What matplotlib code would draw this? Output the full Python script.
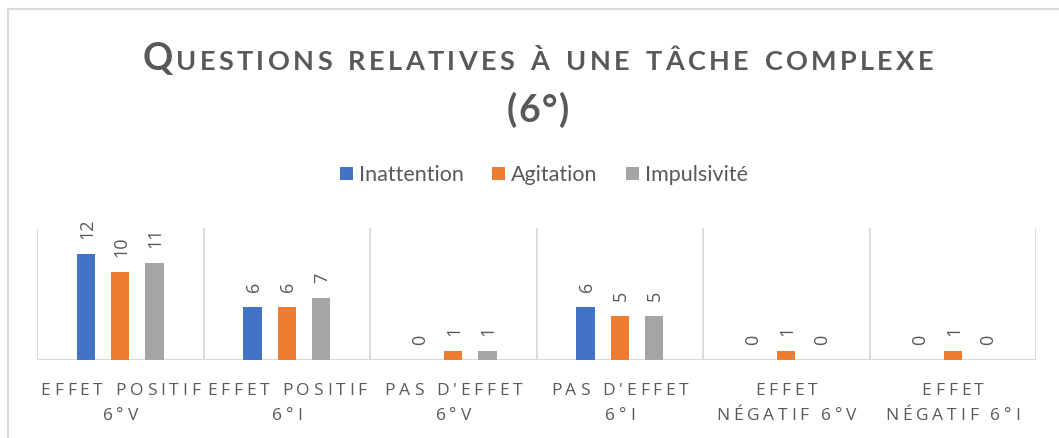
import matplotlib
matplotlib.use("Agg")
import numpy as np
import matplotlib.pyplot as plt
import matplotlib.patches as mpatches

# ---------------------------------------------------------------------------
# Data
# ---------------------------------------------------------------------------
categories = [
    ("EFFET POSITIF", "6°V"),
    ("EFFET POSITIF", "6°I"),
    ("PAS D'EFFET", "6°V"),
    ("PAS D'EFFET", "6°I"),
    ("EFFET", "NÉGATIF 6°V"),
    ("EFFET", "NÉGATIF 6°I"),
]
series_names = ["Inattention", "Agitation", "Impulsivité"]
inattention = [12, 6, 0, 6, 0, 0]
agitation = [10, 6, 1, 5, 1, 1]
impulsivite = [11, 7, 1, 5, 0, 0]
title_first = "Q"
title_rest = "UESTIONS RELATIVES À UNE TÂCHE COMPLEXE"
title_line2 = "(6°)"

colors = ["#4472C4", "#ED7D31", "#A5A5A5"]
TXT = "#595959"
GRID = "#D9D9D9"

W, H = 1059, 438
fig = plt.figure(figsize=(W / 100, H / 100), dpi=100)
fig.patch.set_facecolor("white")

# chart-area frame (runs off the right and bottom edges)
fig.add_artist(mpatches.Rectangle((8 / W, -0.1), 1.2, 429 / H + 0.1,
                                  transform=fig.transFigure, fill=False,
                                  ec=GRID, lw=1.5))

ax = fig.add_axes([37 / W, 78 / H, 999 / W, 132 / H])
x = np.arange(len(categories))
bw = 0.11
off = 0.205
for i, (vals, c, name) in enumerate(zip([inattention, agitation, impulsivite],
                                        colors, series_names)):
    bars = ax.bar(x + (i - 1) * off, vals, bw, color=c, label=name, zorder=3)
    for b, v in zip(bars, vals):
        ax.annotate(str(v), (b.get_x() + b.get_width() / 2, v),
                    xytext=(1, 11), textcoords="offset points",
                    rotation=90, ha="center", va="bottom",
                    fontsize=13, color=TXT, family="Open Sans")

ax.set_xlim(-0.5, len(categories) - 0.5)
ax.set_ylim(0, 15)
for xv in np.arange(-0.5, len(categories), 1.0):
    ax.axvline(xv, color=GRID, lw=1.3, zorder=1)
ax.axhline(0, color=GRID, lw=1.5, zorder=2)
for s in ax.spines.values():
    s.set_visible(False)
ax.set_xticks([])
ax.set_yticks([])

renderer = fig.canvas.get_renderer()


def tracked(xc, y, parts, tracking, word_gap, **kw):
    """Draw text centred at pixel xc, baseline pixel y, with letter spacing."""
    items = []
    for s, size in parts:
        for ch in s:
            if ch == " ":
                items.append((None, word_gap))
                continue
            t = fig.text(0, 1 - y / H, ch, fontsize=size, ha="left",
                         va="baseline", **kw)
            items.append((t, t.get_window_extent(renderer).width))
    total = sum(w for _, w in items) + tracking * (len(items) - 1)
    px = xc - total / 2
    for t, w in items:
        if t is not None:
            t.set_x(px / W)
        px += w + tracking


# title (small caps look)
tkw = dict(color=TXT, family="Lato", weight="bold")
tracked(538, 70, [(title_first, 27), (title_rest, 19.5)], 3.3, 10, **tkw)
tracked(538, 122, [(title_line2, 27)], 1.5, 8, **tkw)

# category labels
for i, (l1, l2) in enumerate(categories):
    xc = ax.transData.transform((x[i], 0))[0]
    lkw = dict(color=TXT, family="Open Sans")
    tracked(xc, 395, [(l1, 12.5)], 3.8, 5, **lkw)
    tracked(xc, 420, [(l2, 12.5)], 3.8, 5, **lkw)

# legend
fig.legend(loc="center", bbox_to_anchor=(544 / W, 1 - 175 / H), ncol=3,
           frameon=False, prop={"family": "Lato", "size": 15.5},
           labelcolor=TXT, handlelength=0.6, handleheight=0.6,
           handletextpad=0.3, columnspacing=1.3)

fig.savefig("out.png", dpi=100, facecolor="white")
